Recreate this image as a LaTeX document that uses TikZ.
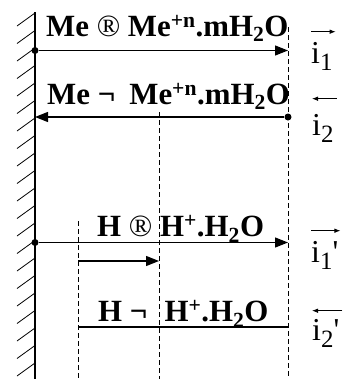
\documentclass[tikz,border=0pt]{standalone}
\usepackage{fontspec}
\setmainfont{Liberation Serif}
\usetikzlibrary{arrows.meta}
\newcommand{\lowsub}[1]{{\fontsize{25}{25}\selectfont\raisebox{-7bp}{#1}}}
\tikzset{
  guide/.style={line width=1bp,dash pattern=on 5bp off 3bp},
  flow/.style={line width=1.4bp,-{Triangle[length=13bp,width=10bp]}},
  vec/.style={line width=.8bp,-{Latex[length=6bp,width=4.5bp]}},
  dot/.style={circle,fill,inner sep=0pt,minimum size=7bp},
  eqn/.style={inner sep=0pt,anchor=base west,font=\fontsize{31}{33}\selectfont\bfseries},
  cur/.style={inner sep=0pt,anchor=base west,font=\fontsize{32}{34}\selectfont}
}

\begin{document}
\begin{tikzpicture}[x=1bp,y=-1bp]
\useasboundingbox (0,0) rectangle (343,379);
% wall
\coordinate (wt) at (35,12);\coordinate (wb) at (35,379);
\draw[line width=1.5bp] (wt)--(wb);
\foreach \y in {13,30.5,...,380}\draw[line width=.8bp] (17,\y+13)--(35,\y);
% dashed levels
\coordinate (g1t) at (288,27);\coordinate (g1b) at (288,379);
\coordinate (g2t) at (159,112);\coordinate (g2b) at (159,379);
\coordinate (g3t) at (78,221);\coordinate (g3b) at (78,379);
\draw[guide] (g1t)--(g1b);\draw[guide] (g2t)--(g2b);\draw[guide] (g3t)--(g3b);
% currents
\node[dot] (a1) at (35,50.5){};\coordinate (a1e) at (288,50.5);
\node[dot] (a2) at (288,117){};\coordinate (a2e) at (35,117);
\node[dot] (a3) at (35,242.5){};\coordinate (a3e) at (288,242.5);
\coordinate (a4) at (78,261);\coordinate (a4e) at (159,261);
\coordinate (a5) at (78,327);\coordinate (a5e) at (288,327);
\draw[flow] (a1)--(a1e);\draw[flow] (a2)--(a2e);\draw[flow] (a3)--(a3e);\draw[flow] (a4)--(a4e);\draw[line width=1.4bp] (a5)--(a5e);
% reactions
\node[eqn] (r1) at (46,36) {Me \textmd{®} Me\textsuperscript{+n}.mH\textsubscript{2}O};
\node[eqn] (r2) at (47,104) {Me ¬\hspace{14bp}Me\textsuperscript{+n}.mH\textsubscript{2}O};
\node[eqn] (r3) at (97,236.5) {H \textmd{®} H\textsuperscript{+}.H\textsubscript{2}O};
\node[eqn] (r4) at (98,321.5) {H ¬\hspace{17bp}H\textsuperscript{+}.H\textsubscript{2}O};
\node[cur] (i1) at (311,63) {i\lowsub{1}};
\node[cur] (i2) at (312,135) {i\lowsub{2}};
\node[cur] (i3) at (311,262) {i\lowsub{1}\textquotesingle};
\node[cur] (i4) at (312,340) {i\lowsub{2}\textquotesingle};
\draw[vec] ([yshift=10bp]i1.north west)--([xshift=3bp,yshift=10bp]i1.north east);
\draw[vec] ([xshift=3bp,yshift=15bp]i2.north east)--([yshift=15bp]i2.north west);
\draw[vec] ([yshift=10bp]i3.north west)--([xshift=2bp,yshift=10bp]i3.north east);
\draw[vec] ([xshift=3bp,yshift=8bp]i4.north east)--([yshift=8bp]i4.north west);
\end{tikzpicture}
\end{document}
